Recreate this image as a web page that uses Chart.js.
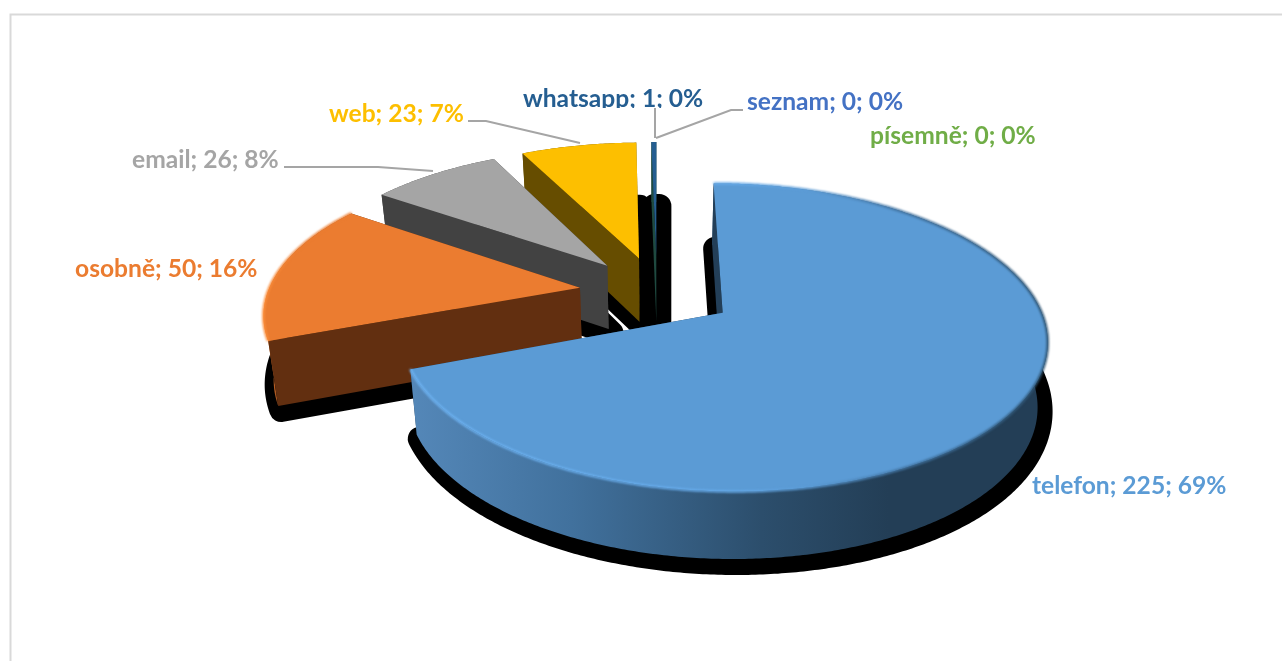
<!DOCTYPE html>
<html><head><meta charset="utf-8">
<style>html,body{margin:0;padding:0;background:#fff}canvas{display:block}</style>
<script src="https://cdn.jsdelivr.net/npm/chart.js@4"></script>
</head><body><canvas id="c" width="1282" height="661"></canvas>
<script>
const categories = ['telefon','osobně','email','web','whatsapp','seznam','písemně'];
const values = [225,50,26,23,1,0,0];
const percents = ['69%','16%','8%','7%','0%','0%','0%'];
const colors = ['#5b9bd5','#eb7c30','#a5a5a5','#fdbf00','#255e91','#4472c4','#70ad47'];
const faceColors = ['#233f58','#622f10','#424242','#664d00','#1f4a40','#223','#223'];

// camera of the tilted pie
const cam = {cx:657, cy:292, k:0.46, D:2000, bottomScale:0.974, h:64, shadowDx:3, shadowDy:4, shadowSize:24};
// label anchors: [left, baseline]
const labelPos = [[1032,494],[75,277],[132,168],[329,122],[523,107],[747,110],[870,144]];
const leaders = [
  [[284,167],[378,167],[433,171]],
  [[468,121],[486,121],[580,143]],
  [[655,108],[655,138]],
  [[743,110],[731,110],[656,138]]
];

function top3d(u,v){const s=1/(1-v/cam.D);return {x:cam.cx+u*s,y:cam.cy+v*cam.k*s};}
function bot3d(u,v){const p=top3d(u,v);return {x:cam.cx+(p.x-cam.cx)*cam.bottomScale,y:p.y+cam.h+v*0.01};}

function sliceGeom(el){
  const a0=el.startAngle,a1=el.endAngle,m=(a0+a1)/2,off=el.options.offset||0,R=el.outerRadius;
  const ox=Math.cos(m)*off,oy=Math.sin(m)*off;
  const n=Math.max(2,Math.ceil((a1-a0)/0.01));
  const rim=[];
  for(let i=0;i<=n;i++){const a=a0+(a1-a0)*i/n;rim.push([ox+Math.cos(a)*R,oy+Math.sin(a)*R]);}
  return {apex:[ox,oy],rim};
}
function poly(ctx,pts){ctx.beginPath();pts.forEach((p,i)=>i?ctx.lineTo(p.x,p.y):ctx.moveTo(p.x,p.y));ctx.closePath();}
function line(ctx,pts){ctx.beginPath();pts.forEach((p,i)=>i?ctx.lineTo(p.x,p.y):ctx.moveTo(p.x,p.y));}
const T=p=>top3d(p[0],p[1]),B=p=>bot3d(p[0],p[1]);

function wallFill(ctx,i,color){
  if(i===0){
    const g=ctx.createLinearGradient(413,0,1047,0);
    g.addColorStop(0,'#5487b8');g.addColorStop(0.25,'#41719d');g.addColorStop(0.55,'#2c4e6c');g.addColorStop(0.75,'#233e56');g.addColorStop(1,'#233e56');
    return g;
  }
  if(i===1){
    const g=ctx.createLinearGradient(264,0,284,0);
    g.addColorStop(0,'#f58a38');g.addColorStop(0.5,'#b85f24');g.addColorStop(1,'#622f10');
    return g;
  }
  return color;
}
function bevel(ctx,i,g){
  if(i>1) return;
  const pts=g.rim.map(T);
  ctx.save();
  let s;
  if(i===0){
    s=ctx.createLinearGradient(413,0,1047,0);
    s.addColorStop(0,'#6fb4f3');s.addColorStop(0.5,'#66aae9');s.addColorStop(0.62,'#5b9bd5');s.addColorStop(0.78,'#3f6f9b');s.addColorStop(1,'#2f5573');
  } else {
    s=ctx.createLinearGradient(264,0,300,0);
    s.addColorStop(0,'#fb8d3a');s.addColorStop(1,'#eb7c30');
  }
  ctx.strokeStyle=s;ctx.lineWidth=2.5;ctx.lineJoin='round';ctx.filter='blur(0.8px)';
  line(ctx,pts);ctx.stroke();
  ctx.restore();
}

const pie3d={
  id:'pie3d',
  beforeDraw(chart){
    const ctx=chart.ctx;
    ctx.save();
    ctx.fillStyle='#fff';ctx.fillRect(0,0,1282,661);
    ctx.strokeStyle='#d9d9d9';ctx.lineWidth=2;
    ctx.beginPath();ctx.moveTo(10.5,661);ctx.lineTo(10.5,14.5);ctx.lineTo(1282,14.5);ctx.stroke();
    ctx.restore();
  },
  beforeDatasetDraw(chart,args){
    const ctx=chart.ctx,meta=args.meta;
    const arcs=meta.data.map((el,i)=>({el,i})).filter(o=>o.el.endAngle-o.el.startAngle>1e-6);
    const geoms={};
    arcs.forEach(o=>geoms[o.i]=sliceGeom(o.el));
    ctx.save();
    // soft-edged ground shadow: outline of every bottom face, dilated
    ctx.save();
    ctx.translate(cam.shadowDx,cam.shadowDy);
    ctx.fillStyle='#000';ctx.strokeStyle='#000';ctx.lineWidth=cam.shadowSize;ctx.lineJoin='round';
    arcs.forEach(o=>{const g=geoms[o.i];const pts=[B(g.apex),...g.rim.map(B)];poly(ctx,pts);ctx.fill();ctx.stroke();});
    ctx.restore();
    // slices, back to front
    arcs.slice().reverse().forEach(o=>{
      const g=geoms[o.i],i=o.i,color=o.el.options.backgroundColor,face=faceColors[i];
      const tr=g.rim.map(T),br=g.rim.map(B);
      ctx.fillStyle=face;
      poly(ctx,[T(g.apex),tr[tr.length-1],br[br.length-1],B(g.apex)]);ctx.fill();
      ctx.fillStyle=wallFill(ctx,i,face);
      poly(ctx,[...tr,...br.slice().reverse()]);ctx.fill();
      ctx.fillStyle=face;
      poly(ctx,[T(g.apex),tr[0],br[0],B(g.apex)]);ctx.fill();
      ctx.fillStyle=color;
      poly(ctx,[T(g.apex),...tr]);ctx.fill();
      bevel(ctx,i,g);
    });
    ctx.restore();
    return false;
  },
  afterDraw(chart){
    const ctx=chart.ctx;
    ctx.save();
    ctx.strokeStyle='#a5a5a5';ctx.lineWidth=2;
    leaders.forEach(l=>{ctx.beginPath();l.forEach((p,i)=>i?ctx.lineTo(p[0],p[1]):ctx.moveTo(p[0],p[1]));ctx.stroke();});
    ctx.font='bold 24.6px Lato';ctx.textBaseline='alphabetic';
    categories.forEach((c,i)=>{
      ctx.save();
      if(i===4){ctx.beginPath();ctx.rect(500,70,260,38);ctx.clip();}
      ctx.fillStyle=colors[i];
      ctx.fillText(c+'; '+values[i]+'; '+percents[i],labelPos[i][0],labelPos[i][1]);
      ctx.restore();
    });
    ctx.restore();
  }
};

new Chart(document.getElementById('c'),{
  type:'pie',
  data:{labels:categories,datasets:[{data:values,backgroundColor:colors,borderWidth:0,offset:78,radius:312}]},
  options:{responsive:false,animation:false,rotation:0,
    plugins:{legend:{display:false},tooltip:{enabled:false}}},
  plugins:[pie3d]
});
</script></body></html>
